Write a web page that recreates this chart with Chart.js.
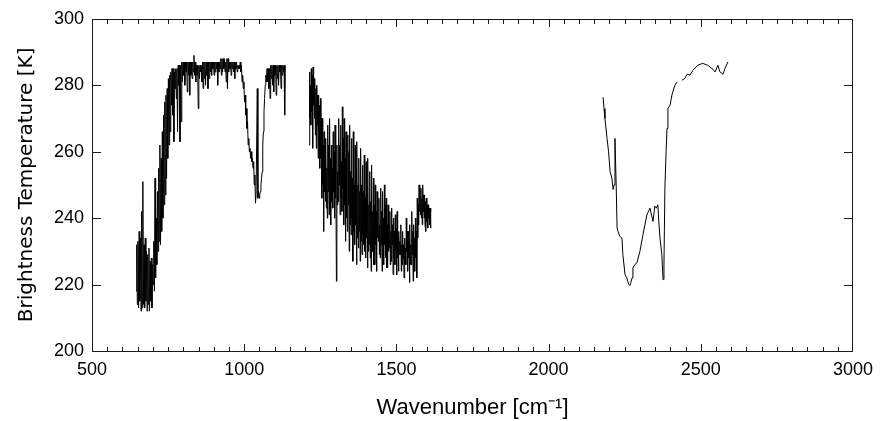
<!DOCTYPE html>
<html>
<head>
<meta charset="utf-8">
<script src="https://cdn.jsdelivr.net/npm/chart.js@4.4.1/dist/chart.umd.min.js"></script>
<style>
html,body{margin:0;padding:0;background:#fff;}
#c{display:block;}
</style>
</head>
<body>
<canvas id="c" width="886" height="421"></canvas>
<script>
// ---- tick labels ----
const xTickValues = [500, 1000, 1500, 2000, 2500, 3000];
const yTickValues = [200, 220, 240, 260, 280, 300];

// ---- band A (645-1134 cm-1): low/high envelope ----
const bandAWavenumber = [645,649,653,657,661,665,669,673,677,681,685,689,693,697,701,705,709,713,717,721,725,729,733,737,741,745,749,753,757,761,765,769,773,777,781,785,789,793,797,801,805,809,813,817,821,825,829,833,837,841,845,849,853,857,861,865,869,873,877,881,885,889,893,897,901,905,909,913,917,921,925,929,933,937,941,945,949,953,957,961,965,969,973,977,981,985,989,993,997,1001,1005,1009,1013,1017,1021,1025,1029,1033,1037,1041,1045,1049,1053,1057,1061,1065,1069,1073,1077,1081,1085,1089,1093,1097,1101,1105,1109,1113,1117,1121,1125,1129,1133];
const bandALow = [218,214,213,215,212,213,214,213,215,212,214,212,215,213,220,218,222,226,230,233,232,236,240,244,247,252,258,262,266,274,271,263,279,276,266,280,263,269,281,283,280,284,278,283,277,283,282,284,283,281,283,273,282,284,281,279,282,280,283,279,282,284,283,285,283,284,285,280,284,285,283,284,285,284,281,279,284,285,283,285,284,282,285,284,285,285,284,281,279,275,271,267,262,260,258,257,255,250,244.5,247,246,246,248,252,262,272,280,281,281,279,276,282,280,278,283,277,282,280,284,279,283,284,271];
const bandAHigh = [232,233,236,234,242,251,232,234,230,229,231,227,228,226,233,252,240,248,255,262,258,266,271,275,277,279,282,283,284,285,285,284,285,285,286,286,286,287,287,287,287,287,287,287,287,287,287,289,287,286,286,286,286,286,287,287,287,287,287,287,287,287,287,287,287,287,287,287,287,288,288,288,288,287,288,288,287,287,287,287,287,287,287,286,286,287,286,283,281,277,273,269,264,261,260,258,257,253,247,279,248,247,250,254,266,276,283,285,285,285,286,286,286,286,286,286,286,286,286,286,286,286,286];

// ---- band B (1213-1612 cm-1): low/high envelope ----
const bandBWavenumber = [1213,1216,1219,1222,1225,1228,1231,1234,1237,1240,1243,1246,1249,1252,1255,1258,1261,1264,1267,1270,1273,1276,1279,1282,1285,1288,1291,1294,1297,1300,1303,1306,1309,1312,1315,1318,1321,1324,1327,1330,1333,1336,1339,1342,1345,1348,1351,1354,1357,1360,1363,1366,1369,1372,1375,1378,1381,1384,1387,1390,1393,1396,1399,1402,1405,1408,1411,1414,1417,1420,1423,1426,1429,1432,1435,1438,1441,1444,1447,1450,1453,1456,1459,1462,1465,1468,1471,1474,1477,1480,1483,1486,1489,1492,1495,1498,1501,1504,1507,1510,1513,1516,1519,1522,1525,1528,1531,1534,1537,1540,1543,1546,1549,1552,1555,1558,1561,1564,1567,1570,1573,1576,1579,1582,1585,1588,1591,1594,1597,1600,1603,1606,1609,1612];
const bandBLow = [262,270,268,272,261,274,270,265,261,268,258,262,255,258,246,250,236,248,245,243,240,248,241,246,238,245,243,248,240,246,221,244,245,250,241,246,242,249,238,244,233,240,236,244,230,238,235,240,227,236,232,238,226,234,231,236,227,233,229,235,232,230,228,234,225,230,232,228,224,230,230,226,226,232,224,234,233,229,228,232,224,230,226,232,228,225,225,230,231,226,227,232,223,228,226,230,223,228,224,229,229,224,226,228,222,226,226,230,224,228,220.6,226,226,229,221,226,224,228,222,234,238,242,241,240,238,242,240,238,236,239,237,240,238,237];
const bandBHigh = [284,280,285,283,285.5,282,281,279,280,277,277,274,276,270,270,262,266,258,264,255,268,262,270,258,262,255,266,260,268,256,262,254,270,262,268,257,273.5,264,270,258,266,255,265,260,268,254,264,252,266,250,262,255,263,250,258,248,261,250,256,248,259,246,257,250,258,244,254,245,256,242,252,244,250,242,248,240,246,238,249,242,248,240,250,244,246,238,244,240,242,236,243,238,240,236,241,237,242,234,236,233,238,232,236,232,234,231,240,236,236,233,238,232,242,236,238,234,240,236,246,244,250,248,249,246,250,247,247,245,246,244,244,243,243,242];

// ---- band C (2179-2589 cm-1), smooth line; null marks the small data gap ----
const bandCWavenumber = [2179,2182,2185,2188,2192,2197,2202,2208,2212,2215,2218,2222,2225,2228,2234,2241,2244,2251,2257,2260,2264,2267,2270,2274,2277,2283,2290,2300,2310,2323,2333,2343,2349,2354,2359,2362,2366,2372,2376,2379,2382,2386,2389,2392,2399,2405,2408,2415,2422,2430,2438,2447,2455,2458,2464,2474,2490,2506,2523,2540,2547,2556,2563,2573,2579,2589];
const bandCTemp = [276.4,273,270,267.5,264,260,254,252,248.6,250,264,250,237,236,234.5,234,229,223,222,221,220,219.7,220.5,222,225,226,226.5,230,235,241,243,239,243.6,243,244,239,234,229,221.5,226,249,260,267,273,274,277,278,280,281,null,281.5,282,283.3,283.3,283,284.5,286,286.6,286,284.8,284,286,284,283.3,285,287];

const frameColor = '#1a1a1a';

function buildEnvelope(wn, lo, hi, offset) {
  const pts = [];
  for (let i = 0; i < wn.length; i++) {
    pts.push({x: wn[i], y: lo[i]});
    pts.push({x: wn[i] + offset, y: hi[i]});
  }
  return pts;
}
const dataA = buildEnvelope(bandAWavenumber, bandALow, bandAHigh, 2);
const dataB = buildEnvelope(bandBWavenumber, bandBLow, bandBHigh, 1.5);
const dataC = bandCWavenumber.map((w, i) => ({x: w, y: bandCTemp[i]}));

const frameTicks = {
  id: 'frameTicks',
  afterDraw(chart) {
    const {ctx, chartArea: a, scales} = chart;
    const xs = scales.x, ys = scales.y;
    ctx.save();
    ctx.fillStyle = frameColor;
    const L = Math.round(a.left), R = Math.round(a.right) - 1;
    const T = Math.round(a.top), B = Math.round(ys.getPixelForValue(200));
    // frame
    ctx.fillRect(L, T, R - L + 1, 1);
    ctx.fillRect(L, B, R - L + 1, 1);
    ctx.fillRect(L, T, 1, B - T + 1);
    ctx.fillRect(R, T, 1, B - T + 1);
    // x ticks (major every 500, minor every 50), inward on bottom and top
    const xMin = xTickValues[0], xMax = xTickValues[xTickValues.length - 1];
    for (let v = xMin; v <= xMax; v += 50) {
      const p = Math.min(R, Math.round(xs.getPixelForValue(v)));
      const len = (v % 500 === 0) ? 7 : 4;
      ctx.fillRect(p, B - len, 1, len);
      ctx.fillRect(p, T + 1, 1, len);
    }
    // y ticks, inward on left and right
    for (const v of yTickValues) {
      const p = Math.min(B, Math.round(ys.getPixelForValue(v)));
      ctx.fillRect(L + 1, p, 8, 1);
      ctx.fillRect(R - 8, p, 8, 1);
    }
    ctx.restore();
  }
};

const lineStyle = {borderColor: '#000', borderWidth: 1, pointRadius: 0, tension: 0, fill: false, spanGaps: false};

new Chart(document.getElementById('c'), {
  type: 'line',
  data: {
    datasets: [
      Object.assign({label: 'A', data: dataA}, lineStyle),
      Object.assign({label: 'B', data: dataB}, lineStyle),
      Object.assign({label: 'C', data: dataC}, lineStyle)
    ]
  },
  options: {
    responsive: false,
    animation: false,
    events: [],
    layout: {padding: {top: 16, right: 33, left: 15, bottom: 0}},
    plugins: {legend: {display: false}, tooltip: {enabled: false}},
    scales: {
      x: {
        type: 'linear',
        min: 500, max: 3000,
        afterBuildTicks: s => { s.ticks = xTickValues.map(v => ({value: v})); },
        afterFit: s => { s.height = 70; },
        grid: {display: false, drawTicks: false},
        border: {display: false},
        ticks: {color: '#000', padding: 8, maxRotation: 0, autoSkip: false,
                callback: v => String(v),
                font: {family: 'Liberation Sans, Arial, sans-serif', size: 18}},
        title: {display: true, text: 'Wavenumber [cm\u207B\u00B9]', color: '#000', padding: {top: 2, bottom: 0},
                font: {family: 'Liberation Sans, Arial, sans-serif', size: 22}}
      },
      y: {
        min: 200, max: 300,
        afterBuildTicks: s => { s.ticks = yTickValues.map(v => ({value: v})); },
        afterFit: s => { s.width = 77; },
        grid: {display: false, drawTicks: false},
        border: {display: false},
        ticks: {color: '#000', padding: 8, autoSkip: false,
                callback: v => String(v),
                font: {family: 'Liberation Sans, Arial, sans-serif', size: 18}},
        title: {display: true, text: 'Brightness Temperature [K]', color: '#000', padding: {top: 0, bottom: 0},
                font: {family: 'DejaVu Sans, sans-serif', size: 20}}
      }
    }
  },
  plugins: [frameTicks]
});
</script>
</body>
</html>
